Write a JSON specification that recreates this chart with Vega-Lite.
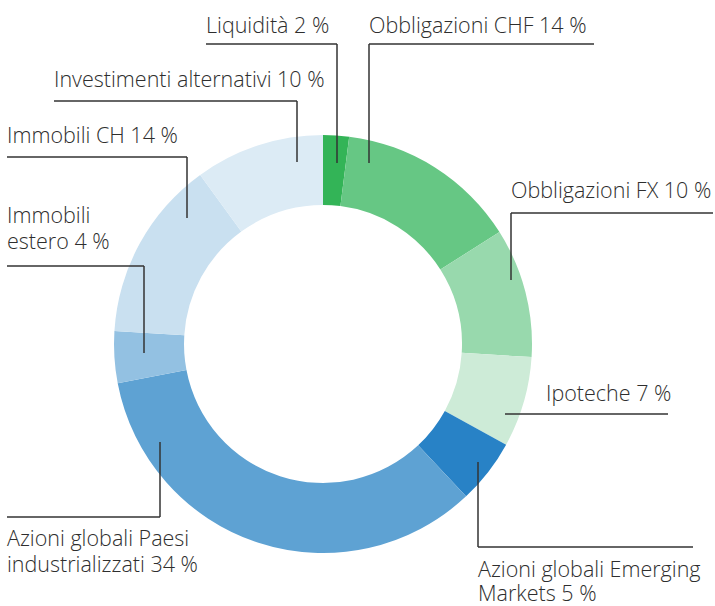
{
  "$schema": "https://vega.github.io/schema/vega-lite/v6.json",
  "width": 646,
  "height": 524,
  "autosize": {"type": "none"},
  "padding": {"left": 0, "top": 82, "right": 69, "bottom": 0},
  "background": "white",
  "config": {"view": {"stroke": null}},
  "datasets": {
    "slices": [
      {"cat": "Liquidità", "pct": 2, "ord": 1},
      {"cat": "Obbligazioni CHF", "pct": 14, "ord": 2},
      {"cat": "Obbligazioni FX", "pct": 10, "ord": 3},
      {"cat": "Ipoteche", "pct": 7, "ord": 4},
      {"cat": "Azioni globali Emerging Markets", "pct": 5, "ord": 5},
      {"cat": "Azioni globali Paesi industrializzati", "pct": 34, "ord": 6},
      {"cat": "Immobili estero", "pct": 4, "ord": 7},
      {"cat": "Immobili CH", "pct": 14, "ord": 8},
      {"cat": "Investimenti alternativi", "pct": 10, "ord": 9}
    ],
    "segs": [
      {"x": -117, "y": 300, "x2": 14, "y2": 300},
      {"x": 14, "y": 300, "x2": 14, "y2": 181},
      {"x": 46, "y": 181, "x2": 46, "y2": 300},
      {"x": 46, "y": 300, "x2": 271, "y2": 300},
      {"x": -269, "y": 243, "x2": -26, "y2": 243},
      {"x": -26, "y": 243, "x2": -26, "y2": 182},
      {"x": -316, "y": 187, "x2": -136, "y2": 187},
      {"x": -136, "y": 187, "x2": -136, "y2": 126},
      {"x": -316, "y": 78, "x2": -179, "y2": 78},
      {"x": -179, "y": 78, "x2": -179, "y2": -9},
      {"x": 188, "y": 131, "x2": 390, "y2": 131},
      {"x": 188, "y": 131, "x2": 188, "y2": 64},
      {"x": 182, "y": -70, "x2": 345, "y2": -70},
      {"x": -163, "y": -98, "x2": -163, "y2": -173},
      {"x": -316, "y": -173, "x2": -163, "y2": -173},
      {"x": 155, "y": -118, "x2": 155, "y2": -203},
      {"x": 155, "y": -203, "x2": 370, "y2": -203}
    ],
    "labels": [
      {"t": "Liquidità 2 %", "x": -117, "y": 311},
      {"t": "Obbligazioni CHF 14 %", "x": 46, "y": 311},
      {"t": "Investimenti alternativi 10 %", "x": -269, "y": 257},
      {"t": "Immobili CH 14 %", "x": -316, "y": 201},
      {"t": "Immobili", "x": -316, "y": 121},
      {"t": "estero 4 %", "x": -316, "y": 95},
      {"t": "Obbligazioni FX 10 %", "x": 188, "y": 146},
      {"t": "Ipoteche 7 %", "x": 223, "y": -57},
      {"t": "Azioni globali Paesi", "x": -316, "y": -202},
      {"t": "industrializzati 34 %", "x": -316, "y": -228},
      {"t": "Azioni globali Emerging", "x": 155, "y": -233},
      {"t": "Markets 5 %", "x": 155, "y": -257}
    ]
  },
  "layer": [
    {
      "data": {"name": "slices"},
      "mark": {"type": "arc", "radius": 209, "radius2": 139, "stroke": null},
      "encoding": {
        "theta": {"field": "pct", "type": "quantitative", "stack": true},
        "order": {"field": "ord", "type": "quantitative"},
        "color": {
          "field": "cat", "type": "nominal", "legend": null,
          "scale": {
            "domain": ["Liquidità", "Obbligazioni CHF", "Obbligazioni FX", "Ipoteche", "Azioni globali Emerging Markets", "Azioni globali Paesi industrializzati", "Immobili estero", "Immobili CH", "Investimenti alternativi"],
            "range": ["#33b457", "#66c784", "#98d9ad", "#cdebd7", "#2882c6", "#5ea2d3", "#93c1e2", "#c9e0f0", "#dcebf5"]
          }
        }
      }
    },
    {
      "data": {"name": "segs"},
      "mark": {"type": "rule", "color": "#333333", "strokeWidth": 1.5},
      "encoding": {
        "x": {"field": "x", "type": "quantitative", "axis": null, "scale": {"domain": [-323, 323], "nice": false, "zero": false}},
        "y": {"field": "y", "type": "quantitative", "axis": null, "scale": {"domain": [-262, 262], "nice": false, "zero": false}},
        "x2": {"field": "x2"},
        "y2": {"field": "y2"}
      }
    },
    {
      "data": {"name": "labels"},
      "mark": {"type": "text", "align": "left", "baseline": "alphabetic", "font": "Open Sans", "fontSize": 21.5, "fontWeight": 350, "color": "#2e2e2e"},
      "encoding": {
        "x": {"field": "x", "type": "quantitative", "axis": null, "scale": {"domain": [-323, 323], "nice": false, "zero": false}},
        "y": {"field": "y", "type": "quantitative", "axis": null, "scale": {"domain": [-262, 262], "nice": false, "zero": false}},
        "text": {"field": "t"}
      }
    }
  ]
}
